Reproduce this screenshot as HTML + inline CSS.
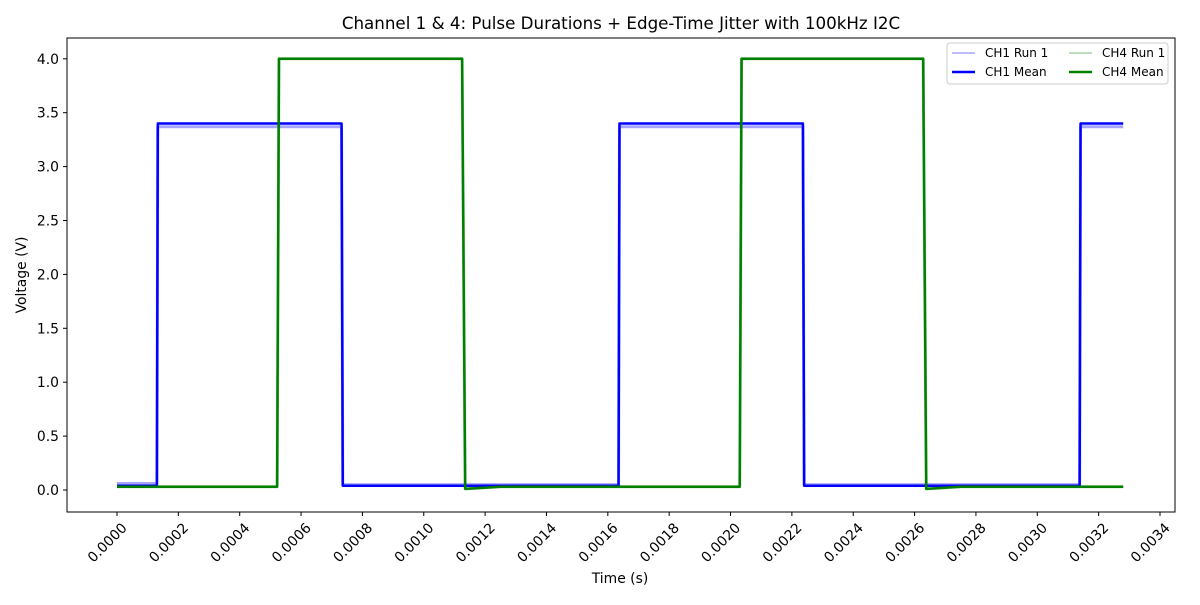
<!DOCTYPE html>
<html><head><meta charset="utf-8"><style>
body{margin:0;background:#fff}
svg{font-family:"DejaVu Sans","Liberation Sans",sans-serif}
</style></head><body>
<svg id="c" width="1200" height="600" viewBox="0 0 1200 600">
<rect width="1200" height="600" fill="#fff"/>
<text x="621" y="29" font-size="16.7" text-anchor="middle">Channel 1 &amp; 4: Pulse Durations + Edge-Time Jitter with 100kHz I2C</text>
<g id="plot"></g>
<rect x="67" y="38" width="1108" height="474" fill="none" stroke="#000" stroke-width="1"/>
<text x="620" y="583" font-size="13.9" text-anchor="middle">Time (s)</text>
<text transform="translate(26,275) rotate(-90)" font-size="13.9" text-anchor="middle">Voltage (V)</text>
<g>
<rect x="947" y="43" width="221" height="41" rx="3" fill="#fff" fill-opacity="0.8" stroke="#ccc"/>
<line x1="952" y1="53" x2="975" y2="53" stroke="#0000ff" stroke-opacity="0.35" stroke-width="1.5"/>
<text x="985" y="57" font-size="12">CH1 Run 1</text>
<line x1="952" y1="72" x2="975" y2="72" stroke="#0000ff" stroke-width="2.5"/>
<text x="985" y="76" font-size="12">CH1 Mean</text>
<line x1="1069" y1="53" x2="1092" y2="53" stroke="#008000" stroke-opacity="0.35" stroke-width="1.5"/>
<text x="1102" y="57" font-size="12">CH4 Run 1</text>
<line x1="1069" y1="72" x2="1092" y2="72" stroke="#008000" stroke-width="2.5"/>
<text x="1102" y="76" font-size="12">CH4 Mean</text>
</g>
</svg>
<script>
const xTicks=[0,0.0002,0.0004,0.0006,0.0008,0.0010,0.0012,0.0014,0.0016,0.0018,0.0020,0.0022,0.0024,0.0026,0.0028,0.0030,0.0032,0.0034];
const yTicks=[0,0.5,1,1.5,2,2.5,3,3.5,4];
const ch1Times=[0,0.000130,0.000133,0.000732,0.000736,0.001635,0.001638,0.002236,0.002240,0.003138,0.003141,0.00328];
const ch1Mean=[0.04,0.04,3.40,3.40,0.04,0.04,3.40,3.40,0.04,0.04,3.40,3.40];
const ch1Run=[0.06,0.06,3.37,3.37,0.05,0.05,3.37,3.37,0.05,0.05,3.37,3.37];
const ch4Times=[0,0.000522,0.000528,0.001125,0.001135,0.00125,0.00203,0.002036,0.002628,0.002638,0.00275,0.00328];
const ch4Mean=[0.03,0.03,4.00,4.00,0.01,0.03,0.03,4.00,4.00,0.01,0.03,0.03];
const ch4Run=[0.03,0.03,4.00,4.00,0.01,0.03,0.03,4.00,4.00,0.01,0.03,0.03];
const X=t=>117+(t/0.0034)*1043;
const Y=v=>490-v*107.8;
const NS='http://www.w3.org/2000/svg';
const g=document.getElementById('plot');
function mk(tag,a){const e=document.createElementNS(NS,tag);for(const k in a)e.setAttribute(k,a[k]);g.appendChild(e);return e;}
xTicks.forEach(t=>{
 const l=mk('line',{x1:X(t),x2:X(t),y1:512,y2:516,stroke:'#000'});
 
 
 const x=X(t)+4,y=522;
 const tx=mk('text',{x:x,y:y,'font-size':13.9,'text-anchor':'end',transform:`rotate(-45 ${x} ${y})`,'dominant-baseline':'hanging'});
 tx.textContent=t.toFixed(4);
 
 
});
yTicks.forEach(v=>{
 const l=mk('line',{x1:63,x2:67,y1:Y(v),y2:Y(v),stroke:'#000'});
 
 
 const tx=mk('text',{x:59,y:Y(v)+5,'font-size':13.9,'text-anchor':'end'});
 tx.textContent=v.toFixed(1);
 
 
});
function line(ts,vs,col,op,w,name){
 const p=mk('polyline',{points:ts.map((t,i)=>X(t)+','+Y(vs[i])).join(' '),fill:'none',stroke:col,'stroke-opacity':op,'stroke-width':w,'stroke-linejoin':'round'});
 
 
}
line(ch1Times,ch1Run,'#0000ff',0.35,3,'ch1-run1-line');
line(ch4Times,ch4Run,'#008000',0.35,3,'ch4-run1-line');
line(ch1Times,ch1Mean,'#0000ff',1,2.5,'ch1-mean-line');
line(ch4Times,ch4Mean,'#008000',1,2.5,'ch4-mean-line');
</script>
</body></html>
